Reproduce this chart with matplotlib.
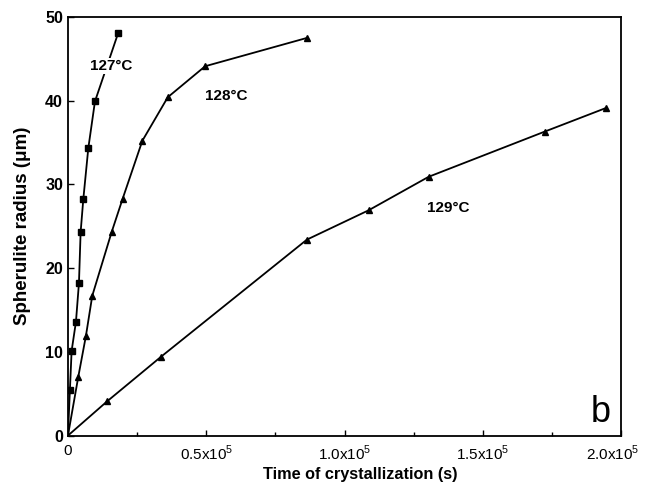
import matplotlib
matplotlib.use("Agg")
import matplotlib.pyplot as plt
from matplotlib.ticker import FixedLocator
from matplotlib.transforms import ScaledTranslation

plt.rcParams['font.family'] = ['Liberation Sans', 'DejaVu Sans']
plt.rcParams['mathtext.fontset'] = 'custom'
plt.rcParams['mathtext.rm'] = 'Liberation Sans'

# spherulite radius (um) vs time of crystallization (s)
t127 = [0, 720, 1330, 2900, 3980, 4590, 5550, 7360, 9770, 18200]
r127 = [0, 5.5, 10.1, 13.6, 18.2, 24.3, 28.2, 34.3, 39.9, 48.1]

t128 = [0, 3730, 6500, 8800, 15800, 19800, 26900, 36100, 49600, 86600]
r128 = [0, 7.0, 11.9, 16.7, 24.3, 28.3, 35.2, 40.4, 44.1, 47.5]

t129 = [0, 14200, 33600, 86400, 108700, 130400, 172400, 194400]
r129 = [0, 4.1, 9.4, 23.4, 26.9, 30.9, 36.3, 39.1]

xticks = [0, 0.5e5, 1.0e5, 1.5e5, 2.0e5]
xticklabels = ['0', '0.5x10$^5$', '1.0x10$^5$', '1.5x10$^5$', '2.0x10$^5$']
yticks = [0, 10, 20, 30, 40, 50]

fig = plt.figure(figsize=(6.47, 4.95), dpi=100)
ax = fig.add_axes([0.105, 0.12, 0.855, 0.846])

ax.plot(t129, r129, color='black', lw=1.3, marker='^', ms=5, markevery=list(range(1, len(t129))))
ax.plot(t128, r128, color='black', lw=1.3, marker='^', ms=5, markevery=list(range(1, len(t128))))
ax.plot(t127, r127, color='black', lw=1.3, marker='s', ms=5, markevery=list(range(1, len(t127))))

ax.text(15800, 44.1, '127°C', fontsize=11, fontweight='bold', ha='center', va='center',
        bbox=dict(facecolor='white', edgecolor='none', pad=0.5))
ax.text(57400, 40.5, '128°C', fontsize=11, fontweight='bold', ha='center', va='center')
ax.text(137500, 27.2, '129°C', fontsize=11, fontweight='bold', ha='center', va='center')
ax.text(192600, 2.7, 'b', fontsize=26, ha='center', va='center')

ax.set_xlim(0, 2.0e5)
ax.set_ylim(0, 50)
ax.set_xticks(xticks)
ax.set_xticklabels(xticklabels)
ax.xaxis.set_minor_locator(FixedLocator([0.25e5, 0.75e5, 1.25e5, 1.75e5]))
ax.set_yticks(yticks)
ax.tick_params(direction='in', length=4, width=1, labelsize=11.5)
ax.tick_params(axis='x', labelsize=11, pad=6)
ax.tick_params(which='minor', direction='in', length=3, width=1)
for lab in ax.get_yticklabels():
    lab.set_fontweight('bold')

# last x label sits a bit left so it fits inside the figure
last = ax.get_xticklabels()[-1]
last.set_transform(last.get_transform() + ScaledTranslation(-6 / 72, 0, fig.dpi_scale_trans))

ax.set_xlabel('Time of crystallization (s)', fontsize=11.7, fontweight='bold')
ax.xaxis.set_label_coords(0.528, -0.074)
ax.set_ylabel('Spherulite radius (\u03bcm)', fontsize=13.5, fontweight='bold', labelpad=10)

for s in ax.spines.values():
    s.set_linewidth(1.3)

plt.savefig('out.png', dpi=100)
